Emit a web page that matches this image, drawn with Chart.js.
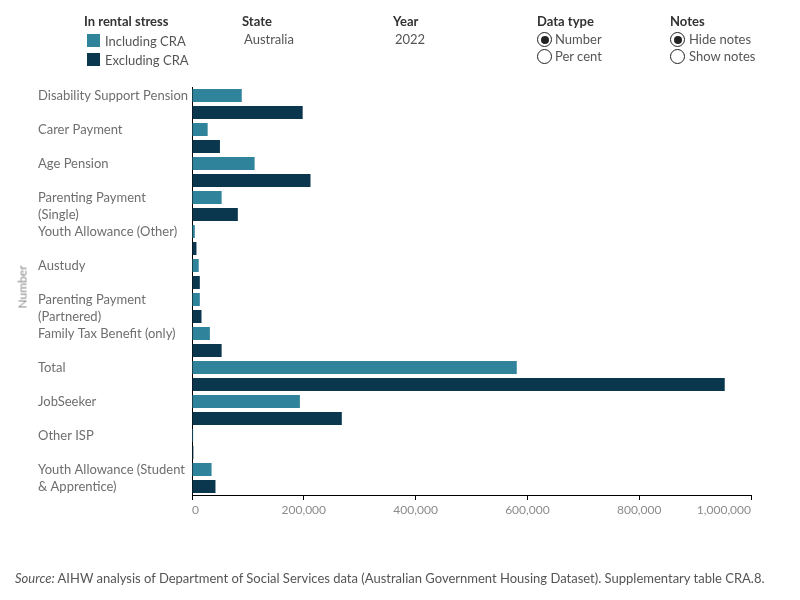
<!DOCTYPE html>
<html>
<head>
<meta charset="utf-8">
<script src="https://cdn.jsdelivr.net/npm/chart.js@4"></script>
<style>
  body { margin: 0; width: 800px; height: 600px; position: relative; background: #fff; font-family: Lato, "Open Sans", sans-serif; overflow: hidden; }
  #wrap { position: absolute; left: 0; top: 0; width: 800px; height: 600px; }
  .t { position: absolute; white-space: nowrap; line-height: 1; }
  .hd { font-size: 13px; color: #333; font-weight: bold; }
  .lb { font-size: 13px; color: #555; }
  .sw { position: absolute; width: 13px; height: 13px; }
  .radio { position: absolute; width: 15px; height: 15px; border: 1px solid #222; border-radius: 50%; box-sizing: border-box; }
  .radio.on::after { content: ''; position: absolute; left: 2.5px; top: 2.5px; width: 8px; height: 8px; border-radius: 50%; background: #222; }
  #ytitle { position: absolute; left: 22px; top: 287px; transform: translate(-50%, -50%) rotate(-90deg); font-size: 12px; color: #8a8a8a; }
  #source { position: absolute; left: 15px; top: 570px; font-size: 13px; color: #555; white-space: nowrap; }
</style>
</head>
<body>
<div id="wrap"><canvas id="chart" width="800" height="600"></canvas></div>

<div class="t hd" style="left:84px;top:15px">In rental stress</div>
<div class="sw" style="left:87px;top:34px;background:#2f839b"></div>
<div class="t lb" style="left:105px;top:35px">Including CRA</div>
<div class="sw" style="left:87px;top:53px;background:#0b374e"></div>
<div class="t lb" style="left:105px;top:54px">Excluding CRA</div>

<div class="t hd" style="left:242px;top:15px">State</div>
<div class="t lb" style="left:244px;top:33px">Australia</div>

<div class="t hd" style="left:393px;top:15px">Year</div>
<div class="t lb" style="left:395px;top:33px">2022</div>

<div class="t hd" style="left:537px;top:15px">Data type</div>
<div class="radio on" style="left:537px;top:32px"></div>
<div class="t lb" style="left:555px;top:33px">Number</div>
<div class="radio" style="left:537px;top:49px"></div>
<div class="t lb" style="left:555px;top:50px">Per cent</div>

<div class="t hd" style="left:670px;top:15px">Notes</div>
<div class="radio on" style="left:670px;top:32px"></div>
<div class="t lb" style="left:689px;top:33px">Hide notes</div>
<div class="radio" style="left:670px;top:49px"></div>
<div class="t lb" style="left:689px;top:50px">Show notes</div>

<div id="ytitle">Number</div>
<div id="source"><i>Source:</i> AIHW analysis of Department of Social Services data (Australian Government Housing Dataset). Supplementary table CRA.8.</div>

<script>
// Categorias (rótulos com linha vazia para alinhar no topo)
const categories = [
  ['Disability Support Pension', ''],
  ['Carer Payment', ''],
  ['Age Pension', ''],
  ['Parenting Payment', '(Single)'],
  ['Youth Allowance (Other)', ''],
  ['Austudy', ''],
  ['Parenting Payment', '(Partnered)'],
  ['Family Tax Benefit (only)', ''],
  ['Total', ''],
  ['JobSeeker', ''],
  ['Other ISP', ''],
  ['Youth Allowance (Student', '& Apprentice)']
];

const includingCRA = [89000, 28000, 112000, 53000, 5000, 12000, 14000, 32000, 581000, 193000, 2000, 35000];
const excludingCRA = [198000, 50000, 212000, 82000, 8000, 14000, 17000, 53000, 953000, 268000, 2500, 42000];

const xTickValues = [0, 200000, 400000, 600000, 800000, 1000000];

const corIncl = '#2f839b';
const corExcl = '#0b374e';

const ctx = document.getElementById('chart').getContext('2d');
new Chart(ctx, {
  type: 'bar',
  data: {
    labels: categories,
    datasets: [
      { label: 'Including CRA', data: includingCRA, backgroundColor: corIncl },
      { label: 'Excluding CRA', data: excludingCRA, backgroundColor: corExcl }
    ]
  },
  options: {
    indexAxis: 'y',
    responsive: false,
    animation: false,
    categoryPercentage: 1,
    barPercentage: 0.765,
    layout: { padding: { top: 87, left: 38, right: 49, bottom: 75 } },
    plugins: {
      legend: { display: false },
      tooltip: { enabled: false }
    },
    scales: {
      x: {
        min: 0,
        max: 1000000,
        afterBuildTicks: (scale) => { scale.ticks = xTickValues.map(v => ({ value: v })); },
        afterFit: (scale) => { scale.height = 30; },
        grid: { display: true, drawOnChartArea: false, drawTicks: true, tickLength: 5, color: '#000' },
        border: { display: true, color: '#000', width: 1 },
        ticks: {
          padding: 3,
          align: 'inner',
          color: '#8c8c8c',
          font: { family: 'Lato', size: 12 },
          maxRotation: 0,
          callback: (v) => Number(v).toLocaleString('en-US')
        }
      },
      y: {
        afterFit: (scale) => { scale.width = 154; },
        grid: { display: false },
        border: { display: true, color: '#000', width: 1 },
        ticks: {
          crossAlign: 'far',
          padding: 0,
          color: '#6e6e6e',
          font: { family: 'Lato', size: 13, lineHeight: 1.3 },
          autoSkip: false
        }
      }
    }
  }
});
</script>
</body>
</html>
